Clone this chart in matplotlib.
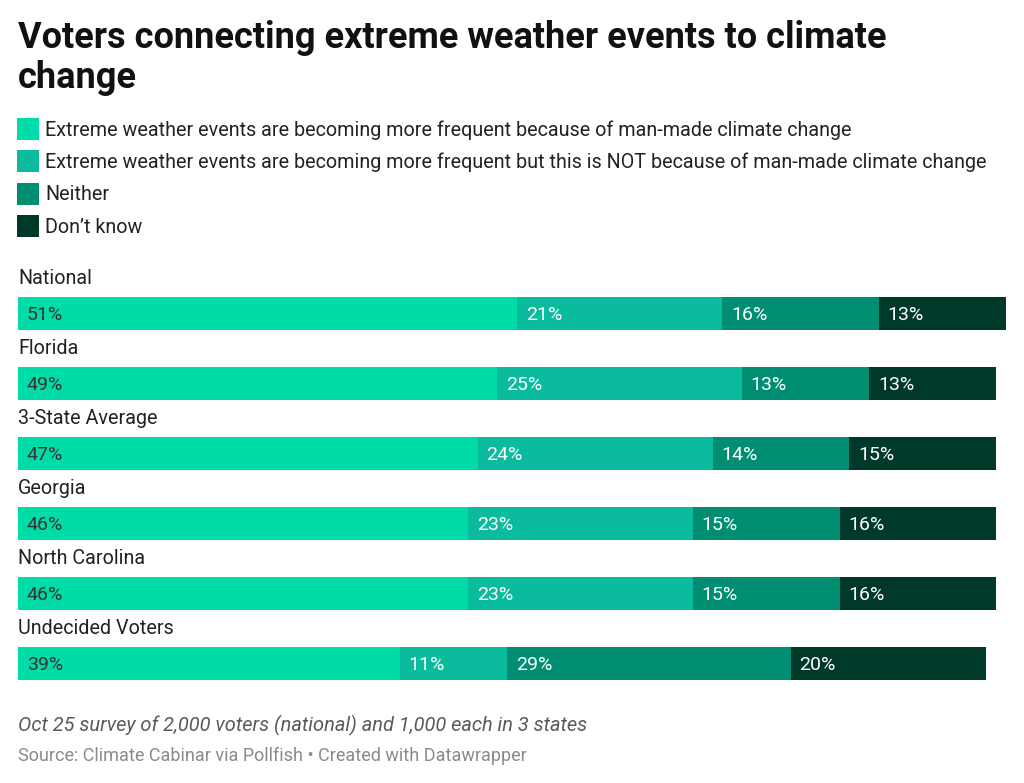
import matplotlib.pyplot as plt
import numpy as np

plt.rcParams['font.family'] = ['Roboto', 'DejaVu Sans']

# data
groups = ['National', 'Florida', '3-State Average', 'Georgia', 'North Carolina', 'Undecided Voters']
man_made = [51, 49, 47, 46, 46, 39]
not_man_made = [21, 25, 24, 23, 23, 11]
neither = [16, 13, 14, 15, 15, 29]
dont_know = [13, 13, 15, 16, 16, 20]

series_names = [
    'Extreme weather events are becoming more frequent because of man-made climate change',
    'Extreme weather events are becoming more frequent but this is NOT because of man-made climate change',
    'Neither',
    'Don\u2019t know',
]
colors = ['#00dca8', '#0abb9e', '#008e72', '#00382a']
label_colors = ['#333333', 'white', 'white', 'white']

W, H = 1024, 783
fig = plt.figure(figsize=(W / 100, H / 100), dpi=100)
fig.patch.set_facecolor('white')


def fx(px):
    return px / W


def fy(py):
    return 1 - py / H


# title
fig.text(fx(18), fy(38), 'Voters connecting extreme weather events to climate',
         fontsize=26, fontweight='bold', va='center', ha='left', color='#111111')
fig.text(fx(18), fy(78), 'change',
         fontsize=26, fontweight='bold', va='center', ha='left', color='#111111')

# legend
leg_y = [129, 161, 194, 226]
for name, c, y in zip(series_names, colors, leg_y):
    fig.patches.append(plt.Rectangle((fx(17), fy(y + 11)), fx(22), 22 / H,
                                     transform=fig.transFigure, facecolor=c,
                                     edgecolor='none'))
    fig.text(fx(45), fy(y + 1), name, fontsize=14.2, va='center', ha='left', color='#222222')

# bars
ax = fig.add_axes([fx(18), fy(700), fx(988), 440 / H])
rows = np.arange(len(groups))
data = [man_made, not_man_made, neither, dont_know]
left = np.zeros(len(groups))
for vals, c, tc in zip(data, colors, label_colors):
    vals = np.array(vals)
    ax.barh(rows, vals, left=left, height=0.47, color=c, edgecolor='none')
    for r, l, v in zip(rows, left, vals):
        ax.text(l + 0.9, r + 0.02, f'{v}%', va='center', ha='left',
                fontsize=14, color=tc)
    left = left + vals

for r, g in zip(rows, groups):
    ax.text(0, r - 0.5, g, va='center', ha='left', fontsize=14.2, color='#222222')

ax.set_xlim(0, 101)
ax.set_ylim(5.521, -0.764)
ax.axis('off')

# footer
fig.text(fx(18), fy(725), 'Oct 25 survey of 2,000 voters (national) and 1,000 each in 3 states',
         fontsize=14.4, style='italic', va='center', ha='left', color='#5a5a5a')
fig.text(fx(18), fy(756), 'Source: Climate Cabinar via Pollfish \u2022 Created with Datawrapper',
         fontsize=13, va='center', ha='left', color='#8a8a8a')

fig.savefig('out.png', dpi=100, facecolor='white')
